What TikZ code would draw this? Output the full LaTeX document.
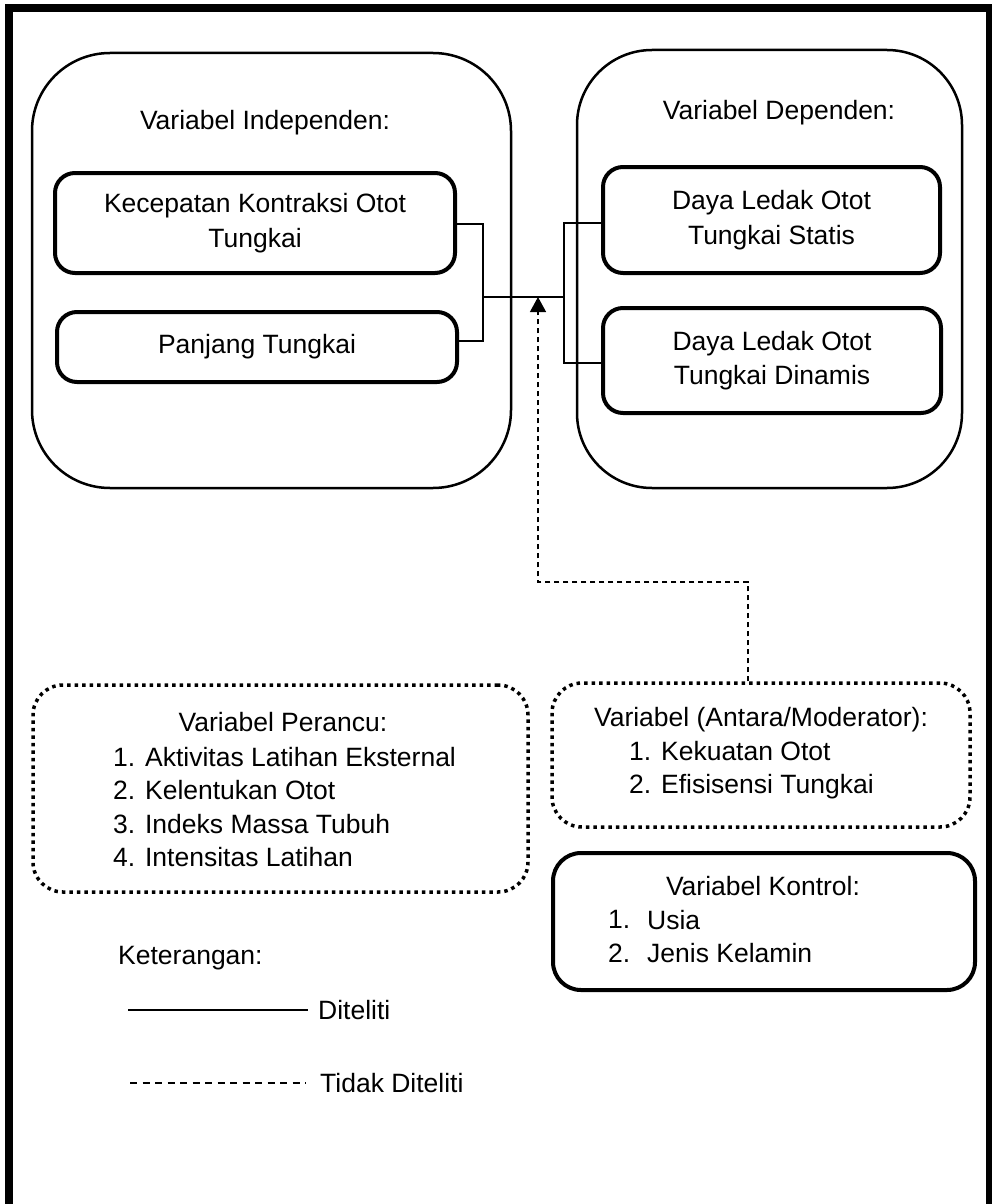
\documentclass[tikz,border=0pt]{standalone}
\usepackage{fontspec}
\setmainfont{Liberation Sans}
\usetikzlibrary{arrows.meta}
\begin{document}
\begin{tikzpicture}[x=1pt,y=-1pt,
  txt/.style={font=\fontsize{26.5}{34.5}\selectfont, inner sep=0pt, align=center},
  lst/.style={font=\fontsize{26.5}{33.5}\selectfont, inner sep=0pt, align=left, anchor=west},
  bigbox/.style={draw, line width=2.5pt, rounded corners=78pt},
  varbox/.style={draw, line width=4pt, rounded corners=20pt, txt},
  dotbox/.style={draw, line width=3.5pt, dash pattern=on 3.5pt off 4pt, rounded corners=30pt},
  solidbox/.style={draw, line width=4pt, rounded corners=28pt},
  conn/.style={line width=1.5pt},
  notconn/.style={line width=1.3pt, dash pattern=on 5.5pt off 3.5pt},
  frame/.style={line width=8pt}
]
\useasboundingbox (0,0) rectangle (992,1204);
% outer frame
\draw[frame] (9,1215) -- (9,8) -- (990,8) -- (990,1215);

% big containers
\node[bigbox, minimum width=479pt, minimum height=435pt] (indep) at (271.5,270.5) {};
\node[bigbox, minimum width=385pt, minimum height=438pt, rounded corners=75pt] (dep) at (769.5,269) {};
\node[txt] (indeptitle) at (265,123) {Variabel Independen:};
\node[txt] (deptitle) at (779,113) {Variabel Dependen:};

% variable boxes
\node[varbox, minimum width=400pt, minimum height=100pt] (k1) at (255,223) {Kecepatan Kontraksi Otot\\Tungkai};
\node[varbox, minimum width=400pt, minimum height=70pt] (k2) at (257,347) {Panjang Tungkai};
\node[varbox, minimum width=337pt, minimum height=106pt] (k3) at (771.5,220) {Daya Ledak Otot\\Tungkai Statis};
\node[varbox, minimum width=338pt, minimum height=105pt] (k4) at (772,360.5) {Daya Ledak Otot\\Tungkai Dinamis};

% connectors
\coordinate (jL) at (483,297);
\coordinate (jR) at (564,297);
\coordinate (tip) at (538,297);
\coordinate (bend) at (538,582);
\draw[conn] ([yshift=-1pt]k1.east) -| (jL);
\draw[conn] ([yshift=6pt]k2.east) -| (jL);
\draw[conn] (jL) -- (jR);
\draw[conn] (jR) |- ([yshift=-3pt]k3.west);
\draw[conn] (jR) |- ([yshift=-2.5pt]k4.west);

% lower boxes
\node[dotbox, minimum width=495pt, minimum height=207pt] (perancu) at (280.5,788.5) {};
\node[txt] (perancutitle) at (283,722) {Variabel Perancu:};
\node[lst] (perancuitems) at (113,807) {1. Aktivitas Latihan Eksternal\\2. Kelentukan Otot\\3. Indeks Massa Tubuh\\4. Intensitas Latihan};

\node[dotbox, minimum width=418pt, minimum height=144pt] (mod) at (761,755) {};
\node[txt] (modtitle) at (761,720) {Variabel (Antara/Moderator):};
\node[lst] (moditems) at (629,770) {1. Kekuatan Otot\\2. Efisisensi Tungkai};

\node[solidbox, minimum width=422pt, minimum height=137pt] (kontrol) at (764,921.5) {};
\node[txt] (kontroltitle) at (763,886) {Variabel Kontrol:};
\node[lst] (kontrolnum) at (608,936.5) {1.\\2.};
\node[lst] (kontrolitems) at (647,936.5) {Usia\\Jenis Kelamin};

% moderator arrow (not examined)
\draw[notconn, -{Triangle[length=15pt,width=16pt]}] ([xshift=-13pt]mod.north) |- (bend) -- (tip);

% legend
\node[lst] (ket) at (118,958) {Keterangan:};
\node[lst] (dit) at (318,1010) {Diteliti};
\node[lst] (tdit) at (320,1083) {Tidak Diteliti};
\coordinate (ls) at (128,1010);
\coordinate (ld) at (130,1083);
\draw[conn] (ls) -- ([xshift=-10pt]dit.west);
\draw[line width=1.5pt, dash pattern=on 7pt off 5.5pt] (ld) -- ([xshift=-14pt]tdit.west);
\end{tikzpicture}
\end{document}
